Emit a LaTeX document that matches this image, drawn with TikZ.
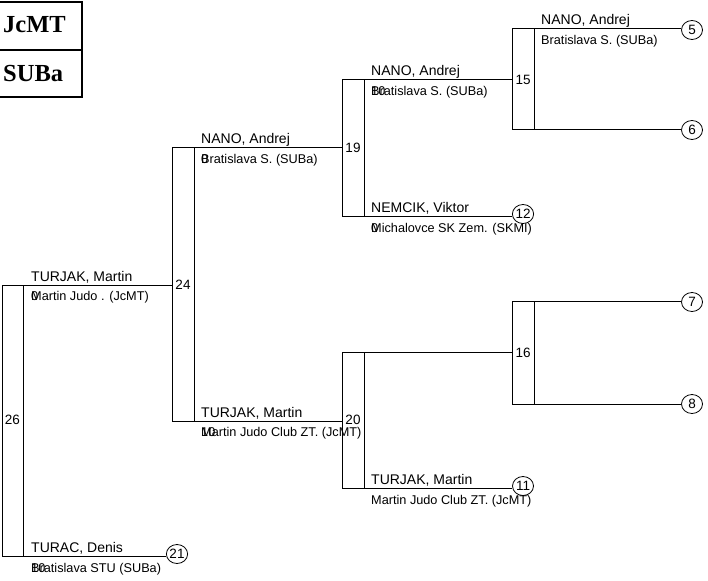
\documentclass[tikz,border=0pt]{standalone}
\usepackage{fontspec}
\setmainfont{Liberation Sans}
\newfontfamily\tabfont{Liberation Serif}
\usetikzlibrary{shapes.geometric}
\tikzset{
  ln/.style={line width=1pt},
  tabln/.style={line width=2pt},
  nm/.style={anchor=base west, inner sep=0pt, font=\fontsize{14}{14}\selectfont},
  cl/.style={anchor=base west, inner sep=0pt, font=\fontsize{12.7}{12.7}\selectfont},
  mno/.style={inner sep=0pt, font=\fontsize{13.5}{13.5}\selectfont},
  seed/.style={ellipse, draw, line width=0.8pt, minimum width=21pt, minimum height=19pt, inner sep=0pt, font=\fontsize{13.5}{13.5}\selectfont},
  tabtx/.style={anchor=base west, inner sep=0pt, font=\tabfont\bfseries\fontsize{24.5}{24.5}\selectfont},
}
\begin{document}
\begin{tikzpicture}[x=1pt,y=-1pt]
\useasboundingbox (0,0) rectangle (708,580);
% club table
\coordinate (tA) at (0,2); \coordinate (tB) at (82,2);
\coordinate (tC) at (0,50); \coordinate (tD) at (82,50);
\coordinate (tE) at (0,97); \coordinate (tF) at (82,97);
\draw[tabln] (tA) -- (tB) -- (tF) -- (tE);
\draw[tabln] (tC) -- (tD);
\node[tabtx] (tj) at (3,33) {JcMT};
\node[tabtx] (ts) at (3,82) {SUBa};

% bracket corner coordinates: o = outer, i = inner, t = top, b = bottom
\coordinate (o26t) at (2,285);   \coordinate (o26b) at (2,556);
\coordinate (i26t) at (23,285);  \coordinate (i26b) at (23,556);
\coordinate (o24t) at (172,148); \coordinate (o24b) at (172,421);
\coordinate (i24t) at (194,148); \coordinate (i24b) at (194,421);
\coordinate (o19t) at (342,80);  \coordinate (o19b) at (342,216);
\coordinate (i19t) at (364,80);  \coordinate (i19b) at (364,216);
\coordinate (o20t) at (342,352); \coordinate (o20b) at (342,488);
\coordinate (i20t) at (364,352); \coordinate (i20b) at (364,488);
\coordinate (o15t) at (512,29);  \coordinate (o15b) at (512,130);
\coordinate (i15t) at (534,29);  \coordinate (i15b) at (534,130);
\coordinate (o16t) at (512,301); \coordinate (o16b) at (512,404);
\coordinate (i16t) at (534,301); \coordinate (i16b) at (534,404);

% seeds
\node[seed] (s5)  at (692,30)  {5};
\node[seed] (s6)  at (692,130) {6};
\node[seed] (s7)  at (692,302) {7};
\node[seed] (s8)  at (692,404) {8};
\node[seed] (s12) at (523,214) {12};
\node[seed] (s11) at (523,486) {11};
\node[seed] (s21) at (177,554) {21};

% verticals
\foreach \m in {26,24,19,20,15,16}{
  \draw[ln] (o\m t) -- (o\m b);
  \draw[ln] (i\m t) -- (i\m b);
}
% horizontals
\draw[ln] (o26t) -- (o26t -| o24t);
\draw[ln] (o26b) -- (o26b -| s21.west);
\draw[ln] (o24t) -- (o24t -| o19t);
\draw[ln] (o24b) -- (o24b -| o20t);
\draw[ln] (o19t) -- (o19t -| o15t);
\draw[ln] (o19b) -- (o19b -| s12.west);
\draw[ln] (o20t) -- (o20t -| o16t);
\draw[ln] (o20b) -- (o20b -| s11.west);
\draw[ln] (o15t) -- (o15t -| s5.west);
\draw[ln] (o15b) -- (o15b -| s6.west);
\draw[ln] (o16t) -- (o16t -| s7.west);
\draw[ln] (o16b) -- (o16b -| s8.west);

% match numbers
\node[mno] (m26) at (12.5,420) {26};
\node[mno] (m24) at (183,284.5) {24};
\node[mno] (m19) at (353,148) {19};
\node[mno] (m20) at (353,420) {20};
\node[mno] (m15) at (523,79.5) {15};
\node[mno] (m16) at (523,352.5) {16};

% competitors
\node[nm] (n15a) at (541,25) {NANO, Andrej};
\node[cl] (c15a) at (541,45) {Bratislava S. (SUBa)};

\node[nm] (n19a) at (371,76) {NANO, Andrej};
\node[cl] (c19a) at (371,96) {Bratislava S. (SUBa)};
\node[cl] (p19a) at (371,96) {10};
\node[nm] (n19b) at (371,212) {NEMCIK, Viktor};
\node[cl] (c19b) at (371,232) {Michalovce SK Zem. (SKMI)};
\node[cl] (p19b) at (371,232) {0};

\node[nm] (n24a) at (201,144) {NANO, Andrej};
\node[cl] (c24a) at (201,164) {Bratislava S. (SUBa)};
\node[cl] (p24a) at (201,164) {0};
\node[nm] (n24b) at (201,417) {TURJAK, Martin};
\node[cl] (c24b) at (201,436) {Martin Judo Club ZT. (JcMT)};
\node[cl] (p24b) at (201,436) {10};

\node[nm] (n20b) at (371,484) {TURJAK, Martin};
\node[cl] (c20b) at (371,504) {Martin Judo Club ZT. (JcMT)};

\node[nm] (n26a) at (31,281) {TURJAK, Martin};
\node[cl] (c26a) at (31,300) {Martin Judo . (JcMT)};
\node[cl] (p26a) at (31,300) {0};
\node[nm] (n26b) at (31,552) {TURAC, Denis};
\node[cl] (c26b) at (31,572) {Bratislava STU (SUBa)};
\node[cl] (p26b) at (31,572) {10};
\end{tikzpicture}
\end{document}
